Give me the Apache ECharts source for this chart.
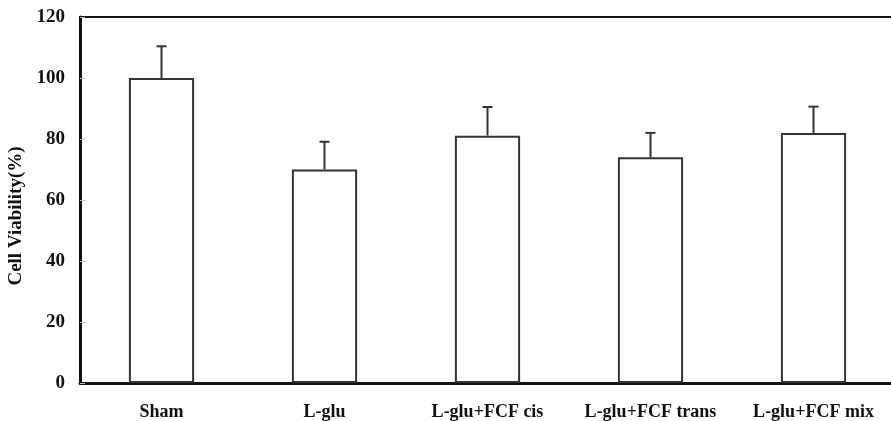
<!DOCTYPE html>
<html>
<head>
<meta charset="utf-8">
<script src="https://cdn.jsdelivr.net/npm/echarts@6/dist/echarts.min.js"></script>
<style>
  html, body { margin: 0; padding: 0; background: #fff; }
  #main { width: 891px; height: 421px; }
</style>
</head>
<body>
<div id="main"></div>
<script>
var categories = ['Sham', 'L-glu', 'L-glu+FCF cis', 'L-glu+FCF trans', 'L-glu+FCF mix'];
var viability = [100, 70, 81.1, 74, 82];
var sd = [10.4, 9.1, 9.4, 8, 8.6];
var yTicks = [0, 20, 40, 60, 80, 100, 120];

var dom = document.getElementById('main');
var myChart = echarts.init(dom, null, { renderer: 'canvas' });

var serif = '"Liberation Serif", "Times New Roman", serif';

var errData = categories.map(function (c, i) {
  return [i, viability[i], viability[i] + sd[i]];
});

var option = {
  animation: false,
  backgroundColor: '#fff',
  grid: {
    left: 80,
    width: 815,
    top: 17,
    bottom: 38,
    outerBoundsMode: 'none',
    containLabel: false,
    show: true,
    borderColor: '#111',
    borderWidth: 2
  },
  xAxis: {
    type: 'category',
    data: categories,
    axisLine: { lineStyle: { color: '#111', width: 3 } },
    axisTick: { inside: true, length: 4, lineStyle: { color: '#bbb' } },
    axisLabel: {
      interval: 0,
      hideOverlap: false,
      margin: 20,
      color: '#111',
      fontFamily: serif,
      fontWeight: 'bold',
      fontSize: 18
    }
  },
  yAxis: {
    type: 'value',
    min: yTicks[0],
    max: yTicks[yTicks.length - 1],
    interval: 20,
    name: 'Cell Viability(%)',
    nameLocation: 'middle',
    nameGap: 51,
    nameTextStyle: {
      color: '#111',
      fontFamily: serif,
      fontWeight: 'bold',
      fontSize: 19,
      padding: [0, 32, 0, 0]
    },
    splitLine: { show: false },
    axisLine: { show: true, lineStyle: { color: '#111', width: 3 } },
    axisTick: { show: true, inside: true, length: 5, lineStyle: { color: '#bbb' } },
    axisLabel: {
      margin: 15,
      color: '#111',
      fontFamily: serif,
      fontWeight: 'bold',
      fontSize: 19
    }
  },
  series: [
    {
      type: 'bar',
      data: viability,
      barWidth: '40%',
      itemStyle: { color: '#fff', borderColor: '#333', borderWidth: 2 }
    },
    {
      type: 'custom',
      data: errData,
      z: 5,
      renderItem: function (params, api) {
        var x = api.value(0);
        var lo = api.coord([x, api.value(1)]);
        var hi = api.coord([x, api.value(2)]);
        var cap = 5;
        var style = { stroke: '#333', lineWidth: 2 };
        return {
          type: 'group',
          children: [
            { type: 'line', shape: { x1: lo[0], y1: lo[1], x2: hi[0], y2: hi[1] }, style: style },
            { type: 'line', shape: { x1: hi[0] - cap, y1: hi[1], x2: hi[0] + cap, y2: hi[1] }, style: style }
          ]
        };
      }
    }
  ]
};

myChart.setOption(option);
window.addEventListener('resize', myChart.resize);
</script>
</body>
</html>
